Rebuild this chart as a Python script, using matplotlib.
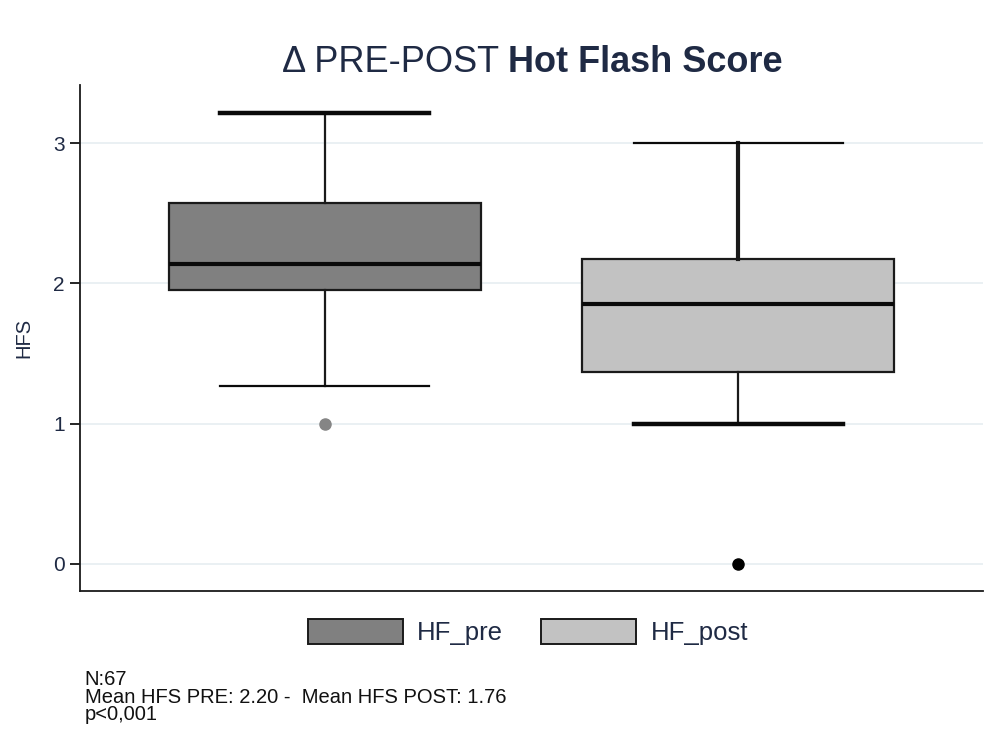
"""Boxplot of Hot Flash Score before and after treatment (HF_pre vs HF_post)."""
import matplotlib
matplotlib.use("Agg")
import matplotlib.pyplot as plt
from matplotlib.patches import Patch

# box statistics
groups = ["HF_pre", "HF_post"]
q1 = [1.95, 1.365]
median = [2.135, 1.855]
q3 = [2.57, 2.175]
whisker_low = [1.27, 1.0]
whisker_high = [3.215, 3.0]
outliers = [[1.0], [0.0]]

box_colors = ["#808080", "#c2c2c2"]
flier_colors = ["#858585", "#000000"]
y_ticks = [0, 1, 2, 3]

note_lines = [
    "N:67",
    "Mean HFS PRE: 2.20 -  Mean HFS POST: 1.76",
    "p<0,001",
]

plt.rcParams["font.family"] = ["Liberation Sans", "DejaVu Sans"]
TEXT = "#1f2a44"

fig = plt.figure(figsize=(9.96, 7.55), dpi=100)
ax = fig.add_axes([0.0803, 0.2172, 0.9067, 0.6702])

stats = []
for i, g in enumerate(groups):
    stats.append(dict(label=g, q1=q1[i], med=median[i], q3=q3[i],
                      whislo=whisker_low[i], whishi=whisker_high[i],
                      fliers=outliers[i]))

positions = list(range(1, len(groups) + 1))
bp = ax.bxp(stats, positions=positions, widths=0.755, capwidths=0.506,
            patch_artist=True, showfliers=True,
            boxprops=dict(edgecolor="#1a1a1a", linewidth=1.6),
            medianprops=dict(color="#0a0a0a", linewidth=3.0),
            whiskerprops=dict(color="#1a1a1a", linewidth=1.6),
            capprops=dict(color="#0a0a0a", linewidth=1.6))

for patch, c in zip(bp["boxes"], box_colors):
    patch.set_facecolor(c)
for fl, c in zip(bp["fliers"], flier_colors):
    fl.set(marker="o", markerfacecolor=c, markeredgecolor=c, markersize=8)

# line weights vary per element in the original
# caps: [pre_low, pre_high, post_low, post_high]
cap_widths = [1.6, 3.2, 3.2, 1.6]
for cap, lw in zip(bp["caps"], cap_widths):
    cap.set_linewidth(lw)
# whiskers: [pre_low, pre_high, post_low, post_high]
whisk_widths = [1.6, 1.6, 1.6, 3.0]
for w, lw in zip(bp["whiskers"], whisk_widths):
    w.set_linewidth(lw)

ax.set_xlim(0.407, 2.593)
ax.set_ylim(-0.193, 3.414)
ax.set_yticks(y_ticks)
ax.set_xticks([])
ax.tick_params(axis="y", length=7, width=1.2, labelsize=15, labelcolor=TEXT,
               pad=4)
ax.grid(axis="y", color="#e8eff2", linewidth=1.3, zorder=0)
ax.set_axisbelow(True)
for s in ("top", "right"):
    ax.spines[s].set_visible(False)
for s in ("left", "bottom"):
    ax.spines[s].set_linewidth(1.3)
    ax.spines[s].set_color("#1a1a1a")
ax.set_ylabel("HFS", fontsize=14.5, color=TEXT, labelpad=14)

# title: plain part + bold part
t1 = fig.text(0.283, 0.9046, "Δ PRE-POST ", fontsize=26, color=TEXT,
              va="baseline", ha="left")
ax.annotate("Hot Flash Score", xy=(1, 0), xycoords=t1, va="bottom",
            ha="left", fontsize=26, fontweight="bold", color=TEXT)

handles = [Patch(facecolor=c, edgecolor="#1a1a1a", linewidth=1.4)
           for c in box_colors]
fig.legend(handles, groups, loc="center", bbox_to_anchor=(0.530, 0.163),
           ncol=2, frameon=False, fontsize=18.5, handlelength=3.7,
           handleheight=1.17, handletextpad=0.55, columnspacing=1.5,
           labelcolor=TEXT)

fig.text(0.085, 0.112, "\n".join(note_lines), fontsize=14.5,
         color="#111111", va="top", ha="left", linespacing=0.9)

fig.savefig("out.png", dpi=100)
